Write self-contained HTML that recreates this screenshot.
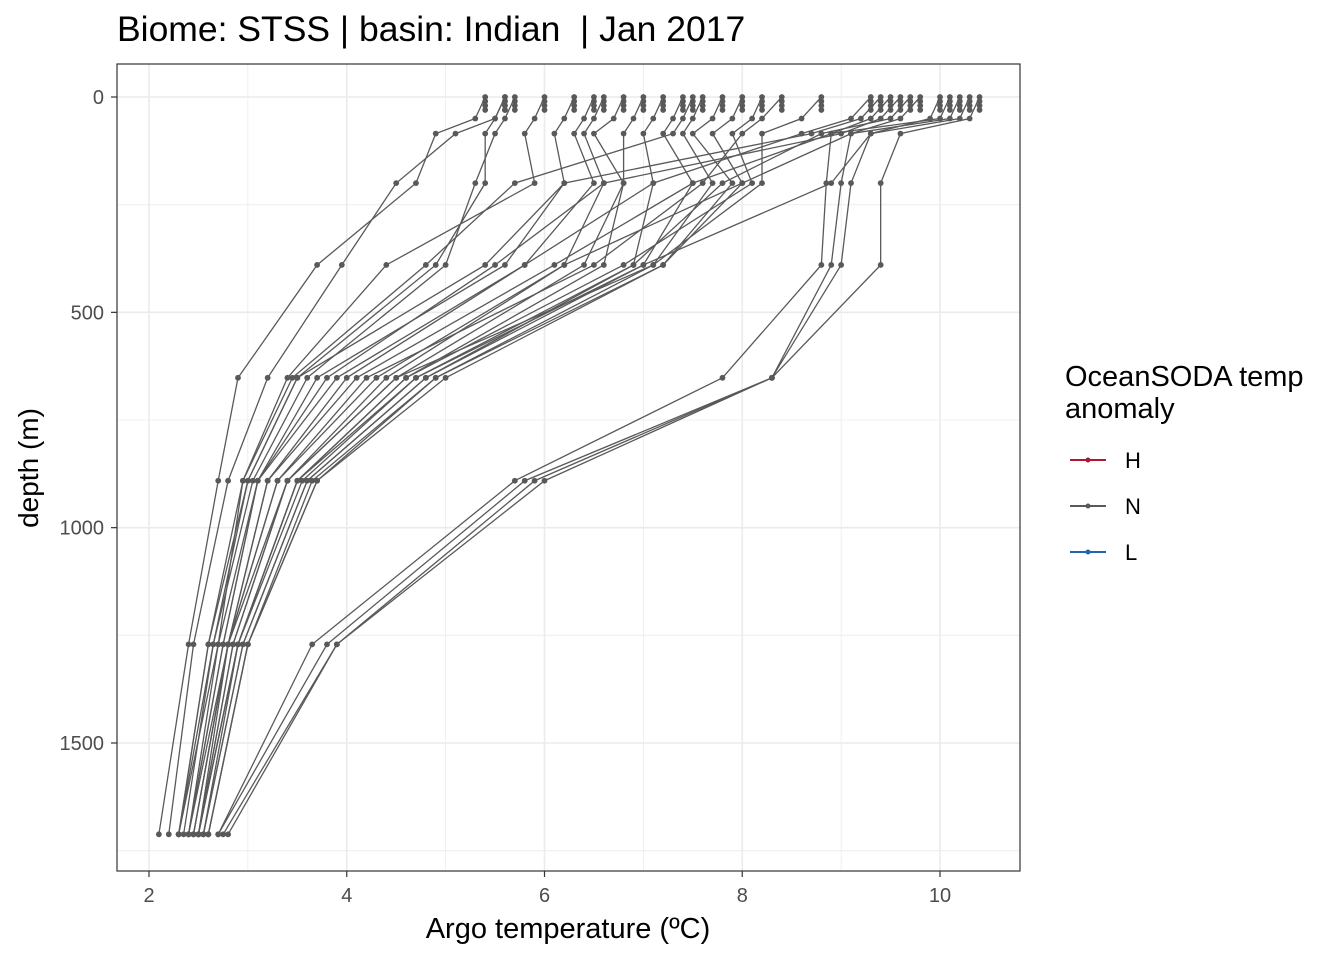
<!DOCTYPE html>
<html><head><meta charset="utf-8">
<style>
body{margin:0;background:#fff;font-family:"Liberation Sans",Arial,sans-serif;}
svg text{font-family:"Liberation Sans",Arial,sans-serif;}
</style></head>
<body>
<svg id="chart" width="1344" height="960" xmlns="http://www.w3.org/2000/svg">
<rect width="1344" height="960" fill="#fff"/>
<text x="117" y="41" font-size="35.5" fill="#000" xml:space="preserve" style="white-space:pre">Biome: STSS | basin: Indian  | Jan 2017</text>
<g id="grid"></g>
<g id="marks"></g>
<rect x="117" y="64" width="903" height="807" fill="none" stroke="#333" stroke-width="1.2"/>
<g id="axes"></g>
<text x="568" y="938" font-size="29" text-anchor="middle" fill="#000">Argo temperature (ºC)</text>
<text transform="translate(38,468) rotate(-90)" font-size="28" text-anchor="middle" fill="#000">depth (m)</text>
<g>
<text x="1065" y="386" font-size="29" fill="#000">OceanSODA temp</text>
<text x="1065" y="418" font-size="29" fill="#000">anomaly</text>
<g><line x1="1070" y1="460" x2="1106" y2="460" stroke="#B2182B" stroke-width="2"/><circle cx="1088" cy="460" r="2.5" fill="#B2182B"/><text x="1125" y="468" font-size="22">H</text></g>
<g><line x1="1070" y1="506" x2="1106" y2="506" stroke="#595959" stroke-width="2"/><circle cx="1088" cy="506" r="2.5" fill="#595959"/><text x="1125" y="514" font-size="22">N</text></g>
<g><line x1="1070" y1="552" x2="1106" y2="552" stroke="#2166AC" stroke-width="2"/><circle cx="1088" cy="552" r="2.5" fill="#2166AC"/><text x="1125" y="560" font-size="22">L</text></g>
</g>
</svg>
<script>
const depths=[0,50,85,200,390,652,891,1271,1712];
const xTicks=[2,4,6,8,10];
const yTicks=[0,500,1000,1500];
const profiles=[
[10.4,10.3,9.6,9.4,9.4,8.3,6.0,3.9,2.8],
[10.3,10.2,9.3,9.1,9.0,8.3,5.9,3.9,2.75],
[10.2,10.1,9.1,9.0,8.9,8.3,5.8,3.8,2.7],
[10.1,10.0,8.9,8.85,8.8,7.8,5.7,3.65,2.7],
[5.4,5.3,4.9,4.7,3.7,2.9,2.7,2.4,2.1],
[5.6,5.5,5.1,4.5,3.95,3.2,2.8,2.45,2.2],
[5.6,5.5,5.4,5.4,4.9,3.5,3.0,2.6,2.3],
[5.7,5.6,5.5,5.3,5.0,3.6,3.05,2.65,2.35],
[6.0,5.9,5.8,5.9,4.4,3.4,2.95,2.7,2.3],
[6.3,6.2,6.1,6.2,5.6,3.7,3.1,2.75,2.4],
[6.5,6.4,6.3,6.5,5.8,4.0,3.2,2.8,2.4],
[6.6,6.5,6.4,6.6,6.2,4.3,3.3,2.8,2.45],
[6.8,6.7,6.5,6.8,6.4,4.5,3.4,2.85,2.5],
[7.0,6.9,6.8,6.8,6.6,4.6,3.5,2.9,2.5],
[7.2,7.1,7.0,7.1,6.9,4.7,3.55,2.9,2.55],
[7.4,7.3,7.2,7.5,7.0,4.8,3.6,2.95,2.55],
[7.6,7.5,7.4,7.7,7.1,4.9,3.65,3.0,2.6],
[7.8,7.7,7.5,7.9,7.2,5.0,3.7,3.0,2.6],
[8.0,7.9,7.7,8.0,6.2,4.4,3.4,2.8,2.5],
[8.2,8.1,7.9,8.1,6.8,4.6,3.5,2.9,2.5],
[8.4,8.2,8.0,7.6,6.5,4.2,3.3,2.8,2.45],
[8.8,8.6,8.2,8.2,7.1,4.5,3.4,2.85,2.5],
[9.3,9.1,8.6,7.1,5.8,3.9,3.1,2.75,2.4],
[9.5,9.3,8.9,7.5,6.1,4.1,3.2,2.8,2.45],
[9.6,9.4,9.0,6.6,5.5,3.8,3.1,2.7,2.4],
[9.7,9.5,8.8,7.8,6.9,4.8,3.6,2.95,2.55],
[9.8,9.6,9.1,8.0,7.2,4.9,3.7,3.0,2.6],
[10.0,9.9,9.3,8.9,7.0,4.7,3.5,2.9,2.5],
[9.4,9.2,8.7,6.2,5.4,3.5,3.0,2.65,2.3],
[7.5,7.4,7.3,5.7,4.8,3.45,2.95,2.6,2.3]
];
const NS="http://www.w3.org/2000/svg";
function xs(t){return 149+(t-2)*(940-149)/8;}
function ys(d){return 97+d*(743-97)/1500;}
const grid=document.getElementById('grid');
function ln(p,x1,y1,x2,y2,c,w){const l=document.createElementNS(NS,'line');l.setAttribute('x1',x1);l.setAttribute('y1',y1);l.setAttribute('x2',x2);l.setAttribute('y2',y2);l.setAttribute('stroke',c);l.setAttribute('stroke-width',w);p.appendChild(l);return l;}
[3,5,7,9].forEach(v=>{const l=ln(grid,xs(v),64,xs(v),871,'#ebebeb',0.8);

});
[250,750,1250,1750].forEach(v=>{const l=ln(grid,117,ys(v),1020,ys(v),'#ebebeb',0.8);

});
xTicks.forEach(v=>{const l=ln(grid,xs(v),64,xs(v),871,'#ebebeb',1.6);

});
yTicks.forEach(v=>{const l=ln(grid,117,ys(v),1020,ys(v),'#ebebeb',1.6);

});
const axes=document.getElementById('axes');
xTicks.forEach(v=>{ln(axes,xs(v),871,xs(v),877,'#333',1.2);
const t=document.createElementNS(NS,'text');t.setAttribute('x',xs(v));t.setAttribute('y',902);t.setAttribute('font-size','20');t.setAttribute('fill','#4d4d4d');t.setAttribute('text-anchor','middle');t.textContent=v;


axes.appendChild(t);});
yTicks.forEach(v=>{ln(axes,111,ys(v),117,ys(v),'#333',1.2);
const t=document.createElementNS(NS,'text');t.setAttribute('x',104);t.setAttribute('y',ys(v)+7);t.setAttribute('font-size','20');t.setAttribute('fill','#4d4d4d');t.setAttribute('text-anchor','end');t.textContent=v;


axes.appendChild(t);});
const marks=document.getElementById('marks');
profiles.forEach((p,i)=>{
  const path=document.createElementNS(NS,'polyline');
  path.setAttribute('points',p.map((t,j)=>xs(t)+','+ys(depths[j])).join(' '));
  path.setAttribute('fill','none');path.setAttribute('stroke','#595959');path.setAttribute('stroke-width','1.3');
  
  
  marks.appendChild(path);
  const pts=p.map((t,j)=>[t,depths[j]]);
  pts.push([p[0],10],[p[0],20],[p[0],30]);
  pts.forEach(([t,d])=>{
    const c=document.createElementNS(NS,'circle');
    c.setAttribute('cx',xs(t));c.setAttribute('cy',ys(d));c.setAttribute('r','2.9');c.setAttribute('fill','#595959');
    
    
    marks.appendChild(c);
  });
});
</script>
</body></html>
